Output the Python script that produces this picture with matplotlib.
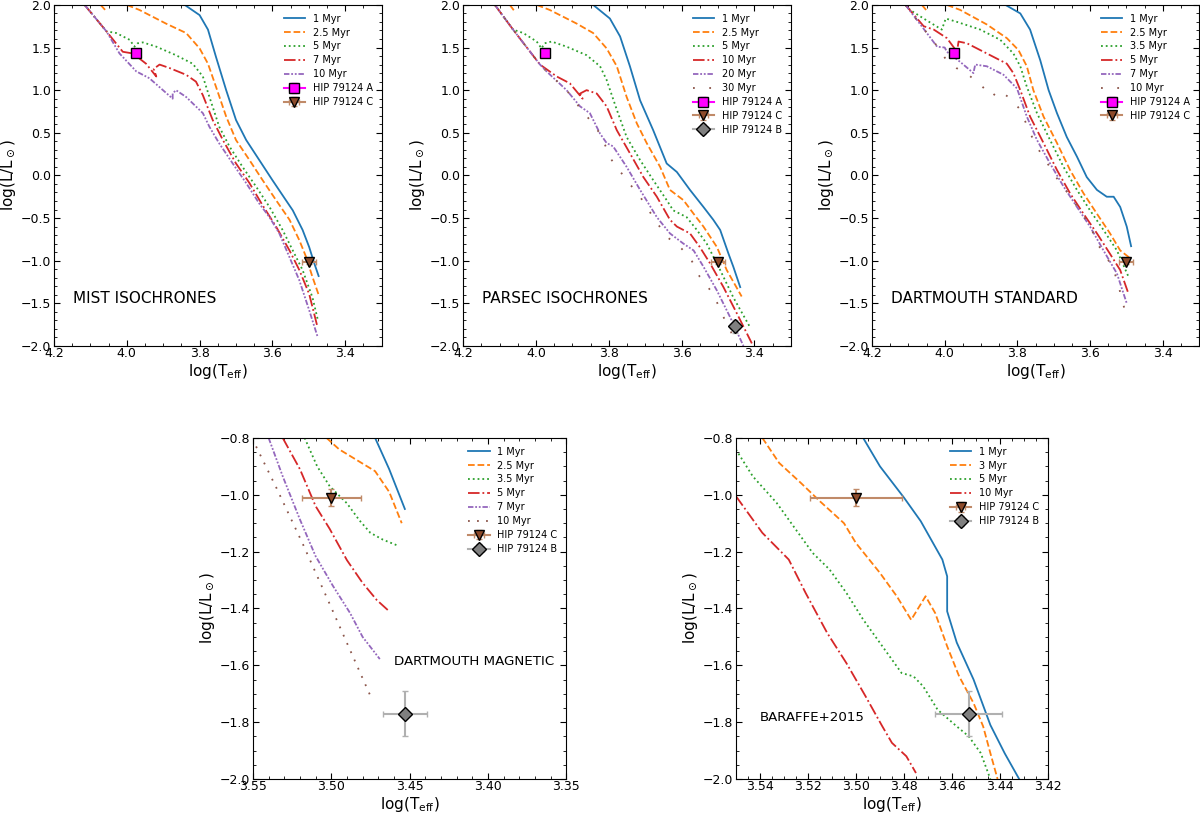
import numpy as np
import matplotlib
matplotlib.use('Agg')
import matplotlib.pyplot as plt
from matplotlib.ticker import AutoMinorLocator, MultipleLocator

nan = np.nan

# Estrellas observadas (log Teff, log L, errores)
star_A = dict(t=3.975, l=1.43, te=0.008, le=0.03)
star_C = dict(t=3.500, l=-1.01, te=0.019, le=0.03)
star_B = dict(t=3.453, l=-1.77, te=0.014, le=0.08)

# ---------------- MIST ----------------
mist_ages = ['1 Myr', '2.5 Myr', '5 Myr', '7 Myr', '10 Myr']
mist_1_t = [3.841, 3.80, 3.777, 3.755, 3.727, 3.70, 3.672, 3.636, 3.60, 3.563, 3.544, 3.517, 3.499, 3.485, 3.473]
mist_1_l = [2.0, 1.88, 1.71, 1.39, 1.0, 0.65, 0.415, 0.18, -0.055, -0.29, -0.41, -0.64, -0.84, -1.03, -1.18]
mist_2_t = [4.072, 4.055, nan, 4.0, 3.965, 3.892, 3.837, 3.80, 3.777, 3.755, 3.727, 3.70, 3.663, 3.627, 3.59, 3.553, 3.526, 3.508, 3.49, 3.473]
mist_2_l = [2.0, 1.92, nan, 2.0, 1.94, 1.78, 1.67, 1.49, 1.31, 1.04, 0.69, 0.415, 0.18, -0.055, -0.29, -0.52, -0.76, -0.95, -1.19, -1.40]
mist_5_t = [4.116, 4.056, 4.029, 3.992, 3.979, 3.97, 3.956, 3.919, 3.865, 3.819, 3.791, 3.773, 3.746, 3.718, 3.682, 3.645, 3.608, 3.572, 3.544, 3.517, 3.49, 3.476]
mist_5_l = [2.0, 1.69, 1.67, 1.59, 1.51, 1.55, 1.56, 1.51, 1.41, 1.31, 1.16, 0.92, 0.57, 0.34, 0.10, -0.13, -0.37, -0.64, -0.88, -1.11, -1.43, -1.68]
mist_7_t = [4.116, 4.056, 4.011, 3.983, 3.947, 3.919, 3.926, 3.91, 3.883, 3.837, 3.81, 3.791, 3.764, 3.736, 3.70, 3.663, 3.627, 3.59, 3.553, 3.526, 3.499, 3.476]
mist_7_l = [2.0, 1.69, 1.45, 1.43, 1.31, 1.16, 1.25, 1.30, 1.26, 1.18, 1.10, 0.94, 0.65, 0.415, 0.14, -0.09, -0.35, -0.60, -0.88, -1.11, -1.39, -1.78]
mist_10_t = [4.116, 4.056, 4.02, 3.974, 3.938, 3.874, 3.874, 3.865, 3.837, 3.791, 3.773, 3.746, 3.709, 3.672, 3.636, 3.608, 3.581, 3.553, 3.526, 3.499, 3.476]
mist_10_l = [2.0, 1.69, 1.43, 1.22, 1.14, 0.90, 0.96, 1.0, 0.92, 0.73, 0.57, 0.375, 0.14, -0.09, -0.33, -0.49, -0.68, -0.96, -1.23, -1.58, -1.89]

# ---------------- PARSEC ----------------
parsec_ages = ['1 Myr', '2.5 Myr', '5 Myr', '10 Myr', '20 Myr', '30 Myr']
parsec_1_t = [3.843, 3.797, 3.769, 3.742, 3.714, 3.678, 3.641, 3.613, 3.577, 3.54, 3.513, 3.494, 3.471, 3.458, 3.439]
parsec_1_l = [2.0, 1.84, 1.63, 1.28, 0.88, 0.53, 0.14, 0.04, -0.17, -0.37, -0.52, -0.64, -0.92, -1.07, -1.31]
parsec_2_t = [4.072, 4.058, nan, 3.998, 3.962, 3.888, 3.843, 3.806, 3.778, 3.751, 3.723, 3.696, 3.659, 3.632, 3.595, 3.567, 3.54, 3.503, 3.476, 3.435]
parsec_2_l = [2.0, 1.92, nan, 2.0, 1.94, 1.78, 1.67, 1.49, 1.28, 0.92, 0.61, 0.38, 0.10, -0.17, -0.29, -0.45, -0.60, -0.84, -1.11, -1.42]
parsec_5_t = [4.113, 4.063, 4.035, 3.998, 3.985, 3.976, 3.957, 3.916, 3.861, 3.824, 3.806, 3.778, 3.751, 3.714, 3.678, 3.641, 3.623, 3.586, 3.558, 3.531, 3.494, 3.458, 3.412]
parsec_5_l = [2.0, 1.71, 1.67, 1.57, 1.49, 1.55, 1.57, 1.51, 1.41, 1.28, 1.12, 0.77, 0.45, 0.18, -0.055, -0.29, -0.41, -0.49, -0.64, -0.80, -1.11, -1.43, -1.78]
parsec_10_t = [4.113, 4.063, 3.989, 3.943, 3.907, 3.872, 3.879, 3.861, 3.833, 3.806, 3.778, 3.742, 3.705, 3.668, 3.632, 3.613, 3.577, 3.55, 3.522, 3.485, 3.448, 3.407]
parsec_10_l = [2.0, 1.71, 1.30, 1.16, 1.08, 0.90, 0.96, 1.0, 0.96, 0.81, 0.53, 0.26, -0.02, -0.25, -0.52, -0.60, -0.68, -0.84, -1.03, -1.31, -1.62, -1.97]
parsec_20_t = [4.113, 4.063, 3.989, 3.971, 3.916, 3.879, 3.852, 3.824, 3.806, 3.788, 3.751, 3.714, 3.668, 3.632, 3.595, 3.567, 3.54, 3.503, 3.467, 3.43]
parsec_20_l = [2.0, 1.71, 1.30, 1.22, 1.0, 0.81, 0.73, 0.49, 0.38, 0.34, 0.10, -0.17, -0.49, -0.68, -0.80, -0.88, -1.07, -1.35, -1.66, -2.0]
parsec_30_t = [4.113, 4.063, 3.989, 3.971, 3.916, 3.879, 3.852, 3.824, 3.792, 3.751, 3.714, 3.678, 3.641, 3.609, 3.577, 3.55, 3.513, 3.485, 3.458]
parsec_30_l = [2.0, 1.71, 1.30, 1.22, 1.0, 0.79, 0.65, 0.49, 0.18, -0.055, -0.25, -0.49, -0.72, -0.82, -0.96, -1.19, -1.39, -1.66, -1.89]

# ---------------- DARTMOUTH STANDARD ----------------
dstd_ages = ['1 Myr', '2.5 Myr', '3.5 Myr', '5 Myr', '7 Myr', '10 Myr']
dstd_1_t = [3.833, 3.792, 3.765, 3.737, 3.714, 3.691, 3.664, 3.636, 3.609, 3.581, 3.554, 3.535, 3.517, 3.499, 3.487]
dstd_1_l = [2.0, 1.90, 1.71, 1.35, 1.0, 0.73, 0.45, 0.22, -0.02, -0.17, -0.25, -0.25, -0.37, -0.60, -0.83]
dstd_2_t = [4.063, 4.051, nan, 3.994, 3.957, 3.884, 3.829, 3.797, 3.774, 3.756, 3.728, 3.691, 3.655, 3.618, 3.581, 3.545, 3.517, 3.49]
dstd_2_l = [2.0, 1.94, nan, 2.0, 1.94, 1.77, 1.61, 1.47, 1.28, 1.0, 0.69, 0.38, 0.063, -0.21, -0.45, -0.68, -0.88, -0.97]
dstd_35_t = [4.108, 4.095, 4.058, 4.008, 3.997, 3.966, 3.902, 3.847, 3.811, 3.792, 3.774, 3.746, 3.71, 3.673, 3.636, 3.60, 3.563, 3.526, 3.494]
dstd_35_l = [2.0, 1.94, 1.84, 1.71, 1.84, 1.80, 1.71, 1.59, 1.43, 1.28, 1.04, 0.73, 0.415, 0.10, -0.17, -0.41, -0.64, -0.88, -1.19]
dstd_5_t = [4.108, 4.058, 4.03, 3.994, 3.966, 3.962, 3.939, 3.884, 3.829, 3.811, 3.792, 3.765, 3.728, 3.691, 3.655, 3.618, 3.581, 3.545, 3.517, 3.494]
dstd_5_l = [2.0, 1.75, 1.71, 1.61, 1.45, 1.57, 1.55, 1.43, 1.31, 1.20, 1.0, 0.69, 0.38, 0.063, -0.21, -0.45, -0.68, -0.92, -1.11, -1.39]
dstd_7_t = [4.108, 4.058, 4.021, 4.0, 3.994, 3.957, 3.921, 3.916, 3.884, 3.838, 3.801, 3.774, 3.746, 3.71, 3.673, 3.636, 3.60, 3.563, 3.526, 3.499]
dstd_7_l = [2.0, 1.72, 1.51, 1.50, 1.45, 1.33, 1.20, 1.30, 1.28, 1.18, 1.02, 0.69, 0.415, 0.14, -0.13, -0.37, -0.60, -0.88, -1.15, -1.50]
dstd_10_t = [4.108, 4.058, 4.03, 3.998, 3.968, 3.932, 3.898, 3.87, 3.852, 3.818, 3.792, 3.774, 3.756, 3.737, 3.714, 3.691, 3.664, 3.641, 3.618, 3.595, 3.577, 3.554, 3.535, 3.521, 3.513, 3.499]
dstd_10_l = [2.0, 1.72, 1.57, 1.37, 1.26, 1.17, 1.05, 0.92, 1.0, 0.90, 0.77, 0.59, 0.415, 0.27, 0.12, -0.035, -0.19, -0.33, -0.47, -0.64, -0.82, -0.96, -1.11, -1.29, -1.46, -1.64]

# ---------------- DARTMOUTH MAGNETIC ----------------
dmag_ages = ['1 Myr', '2.5 Myr', '3.5 Myr', '5 Myr', '7 Myr', '10 Myr']
dmag_1_t = [3.472, 3.463, 3.453]
dmag_1_l = [-0.8, -0.91, -1.05]
dmag_2_t = [3.503, 3.495, 3.472, 3.463, 3.455]
dmag_2_l = [-0.8, -0.84, -0.917, -0.99, -1.10]
dmag_35_t = [3.517, 3.509, 3.501, 3.49, 3.482, 3.475, 3.467, 3.457]
dmag_35_l = [-0.8, -0.90, -0.97, -1.03, -1.09, -1.134, -1.158, -1.18]
dmag_5_t = [3.531, 3.52, 3.51, 3.501, 3.49, 3.48, 3.471, 3.463]
dmag_5_l = [-0.8, -0.91, -1.04, -1.12, -1.23, -1.31, -1.37, -1.41]
dmag_7_t = [3.54, 3.531, 3.52, 3.51, 3.499, 3.488, 3.48, 3.469]
dmag_7_l = [-0.8, -0.935, -1.087, -1.216, -1.32, -1.416, -1.50, -1.578]
dmag_10_t = [3.548, 3.535, 3.518, 3.502, 3.486, 3.474]
dmag_10_l = [-0.83, -0.976, -1.175, -1.372, -1.571, -1.72]

# ---------------- BARAFFE+2015 ----------------
bhac_ages = ['1 Myr', '3 Myr', '5 Myr', '10 Myr']
bhac_1_t = [3.497, 3.49, 3.48, 3.473, 3.464, 3.462, 3.462, 3.458, 3.451, 3.444, 3.438, 3.432]
bhac_1_l = [-0.8, -0.90, -1.01, -1.093, -1.228, -1.287, -1.41, -1.52, -1.65, -1.81, -1.91, -2.0]
bhac_3_t = [3.539, 3.532, 3.523, 3.515, 3.505, 3.50, 3.49, 3.483, 3.477, 3.471, 3.467, 3.462, 3.457, 3.451, 3.447, 3.444, 3.441]
bhac_3_l = [-0.8, -0.888, -0.958, -1.023, -1.10, -1.17, -1.275, -1.357, -1.44, -1.357, -1.416, -1.533, -1.639, -1.733, -1.815, -1.909, -2.0]
bhac_5_t = [3.55, 3.543, 3.533, 3.525, 3.518, 3.511, 3.504, 3.497, 3.489, 3.481, 3.476, 3.472, 3.466, 3.458, 3.453, 3.448, 3.444]
bhac_5_l = [-0.841, -0.935, -1.029, -1.123, -1.205, -1.263, -1.345, -1.439, -1.533, -1.627, -1.639, -1.674, -1.756, -1.815, -1.85, -1.909, -2.0]
bhac_10_t = [3.55, 3.539, 3.528, 3.521, 3.512, 3.504, 3.496, 3.489, 3.485, 3.479, 3.475]
bhac_10_l = [-1.005, -1.134, -1.228, -1.345, -1.486, -1.592, -1.709, -1.815, -1.873, -1.92, -1.979]

estilos = ['-', '--', ':', '-.', (0, (3, 1, 1, 1, 1, 1)), (0, (1, 8))]
colores = ['C0', 'C1', 'C2', 'C3', 'C4', 'C5']

plt.rcParams['font.family'] = 'DejaVu Sans'


def estrella(ax, s, label, marker, mfc, ecolor, ms):
    ax.errorbar(s['t'], s['l'], xerr=s['te'], yerr=s['le'], fmt=marker + '-', color=ecolor,
                mfc=mfc, mec='k', ms=ms, ecolor=ecolor, elinewidth=1.5, capsize=2.5, label=label)


def panel(ax, curvas, edades, titulo, pos, xlim, ylim, pasos, estrellas,
          dotstyle=(0, (1, 8)), tsize=11):
    for i, (t, l) in enumerate(curvas):
        ls = estilos[i] if i < 5 else dotstyle
        ax.plot(t, l, ls=ls, color=colores[i], lw=1.3, label=edades[i])
    if 'A' in estrellas:
        estrella(ax, star_A, 'HIP 79124 A', 's', 'magenta', 'magenta', 7)
    if 'C' in estrellas:
        estrella(ax, star_C, 'HIP 79124 C', 'v', '#8c4a2a', '#c08a68', 7)
    if 'B' in estrellas:
        estrella(ax, star_B, 'HIP 79124 B', 'D', 'gray', '#b0b0b0', 7)
    ax.set_xlim(*xlim)
    ax.set_ylim(*ylim)
    ax.xaxis.set_major_locator(MultipleLocator(pasos[0]))
    ax.yaxis.set_major_locator(MultipleLocator(pasos[1]))
    ax.xaxis.set_minor_locator(AutoMinorLocator())
    ax.yaxis.set_minor_locator(AutoMinorLocator())
    ax.tick_params(which='both', direction='in', top=True, right=True, labelsize=9, pad=2)
    ax.tick_params(axis='x', which='both', pad=1)
    ax.tick_params(which='major', length=4)
    ax.tick_params(which='minor', length=2)
    ax.set_xlabel(r'log(T$_{\rm eff}$)', fontsize=11, labelpad=1)
    ax.set_ylabel(r'log(L/L$_\odot$)', fontsize=11, labelpad=2)
    ax.text(pos[0], pos[1], titulo, fontsize=tsize, va='center')
    ax.legend(loc='upper right', frameon=False, fontsize=7, labelspacing=0.4, handlelength=2.2)


fig = plt.figure(figsize=(12, 8.14), dpi=100)
ax1 = fig.add_axes([0.045, 0.575, 0.273, 0.419])
ax2 = fig.add_axes([0.386, 0.575, 0.273, 0.419])
ax3 = fig.add_axes([0.7267, 0.575, 0.2725, 0.419])
ax4 = fig.add_axes([0.2108, 0.043, 0.261, 0.419])
ax5 = fig.add_axes([0.6133, 0.043, 0.26, 0.419])

panel(ax1, [(mist_1_t, mist_1_l), (mist_2_t, mist_2_l), (mist_5_t, mist_5_l),
            (mist_7_t, mist_7_l), (mist_10_t, mist_10_l)],
      mist_ages, 'MIST ISOCHRONES', (4.148, -1.44), (4.2, 3.3), (-2.0, 2.0), (0.2, 0.5), 'AC')
panel(ax2, [(parsec_1_t, parsec_1_l), (parsec_2_t, parsec_2_l), (parsec_5_t, parsec_5_l),
            (parsec_10_t, parsec_10_l), (parsec_20_t, parsec_20_l), (parsec_30_t, parsec_30_l)],
      parsec_ages, 'PARSEC ISOCHRONES', (4.148, -1.44), (4.2, 3.3), (-2.0, 2.0), (0.2, 0.5), 'ACB')
panel(ax3, [(dstd_1_t, dstd_1_l), (dstd_2_t, dstd_2_l), (dstd_35_t, dstd_35_l),
            (dstd_5_t, dstd_5_l), (dstd_7_t, dstd_7_l), (dstd_10_t, dstd_10_l)],
      dstd_ages, 'DARTMOUTH STANDARD', (4.148, -1.44), (4.2, 3.3), (-2.0, 2.0), (0.2, 0.5), 'AC')
panel(ax4, [(dmag_1_t, dmag_1_l), (dmag_2_t, dmag_2_l), (dmag_35_t, dmag_35_l),
            (dmag_5_t, dmag_5_l), (dmag_7_t, dmag_7_l), (dmag_10_t, dmag_10_l)],
      dmag_ages, 'DARTMOUTH MAGNETIC', (3.46, -1.586), (3.55, 3.35), (-2.0, -0.8), (0.05, 0.2), 'CB',
      dotstyle=(0, (1, 4)), tsize=9.6)
panel(ax5, [(bhac_1_t, bhac_1_l), (bhac_3_t, bhac_3_l), (bhac_5_t, bhac_5_l),
            (bhac_10_t, bhac_10_l)],
      bhac_ages, 'BARAFFE+2015', (3.54, -1.785), (3.55, 3.42), (-2.0, -0.8), (0.02, 0.2), 'CB',
      tsize=9.6)

fig.savefig('out.png', dpi=100)
